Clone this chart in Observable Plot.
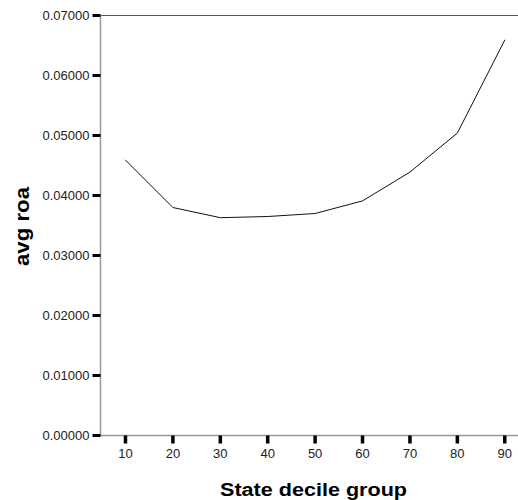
<!DOCTYPE html>
<html>
<head>
<meta charset="utf-8">
<script src="https://cdn.jsdelivr.net/npm/d3@7"></script>
<script src="https://cdn.jsdelivr.net/npm/@observablehq/plot@0.6"></script>
<style>
  html, body { margin: 0; padding: 0; background: #fff; }
  #chart { width: 518px; height: 500px; }
</style>
</head>
<body>
<div id="chart"></div>
<script>
const deciles = [10, 20, 30, 40, 50, 60, 70, 80, 90];
const avgRoa = [0.0459, 0.0380, 0.0363, 0.0365, 0.0370, 0.0391, 0.0439, 0.0504, 0.0659];
const yTicks = [0, 0.01, 0.02, 0.03, 0.04, 0.05, 0.06, 0.07];
const xTicks = [10, 20, 30, 40, 50, 60, 70, 80, 90];
const xTitle = "State decile group";
const yTitle = "avg roa";

const data = deciles.map((d, i) => ({decile: d, roa: avgRoa[i]}));

const spike = {draw(context, l) { context.moveTo(0, 0); context.lineTo(0, -l); }};

const chart = Plot.plot({
  width: 518,
  height: 500,
  marginLeft: 100,
  marginRight: 0,
  marginTop: 15,
  marginBottom: 65,
  style: {fontFamily: "'Liberation Sans', Arial, sans-serif", fontSize: "13px", color: "#111", background: "#fff"},
  x: {type: "linear", domain: [4.73, 92.9]},
  y: {domain: [0, 0.07]},
  marks: [
    Plot.frame({anchor: "top", stroke: "#555", strokeWidth: 1}),
    Plot.frame({anchor: "left", stroke: "#999", strokeWidth: 1.5}),
    Plot.frame({anchor: "bottom", stroke: "#999", strokeWidth: 1.5}),
    Plot.line(data, {x: "decile", y: "roa", stroke: "#111", strokeWidth: 1}),
    Plot.vector(yTicks, {y: d => d, frameAnchor: "left", rotate: 270, length: 8, anchor: "start", shape: spike, stroke: "#000", strokeWidth: 3, strokeLinecap: "butt"}),
    Plot.vector(xTicks, {x: d => d, frameAnchor: "bottom", rotate: 180, length: 8, anchor: "start", shape: spike, stroke: "#000", strokeWidth: 3.5, strokeLinecap: "butt"}),
    Plot.axisY({ticks: yTicks, tickSize: 0, tickPadding: 11, tickFormat: d3.format(".5f"), fontSize: 13, fill: "#222", label: null}),
    Plot.axisX({ticks: xTicks, tickSize: 0, tickPadding: 13, tickFormat: d => String(d), fontSize: 13, fill: "#222", label: null}),
    Plot.text([yTitle], {frameAnchor: "left", rotate: -90, dx: -72, dy: 1, lineAnchor: "bottom", textAnchor: "middle", fontSize: 20, fontWeight: "bold", fill: "#000", className: "ytitle"}),
    Plot.text([xTitle], {frameAnchor: "bottom", dx: 4, dy: 60, lineAnchor: "bottom", textAnchor: "middle", fontSize: 18, fontWeight: "bold", fill: "#000", className: "xtitle"})
  ]
});

document.getElementById("chart").appendChild(chart);
chart.querySelectorAll(".xtitle text").forEach(t => { t.setAttribute("textLength", "187"); t.setAttribute("lengthAdjust", "spacingAndGlyphs"); });
chart.querySelectorAll(".ytitle text").forEach(t => { t.setAttribute("textLength", "79"); t.setAttribute("lengthAdjust", "spacingAndGlyphs"); });
</script>
</body>
</html>
